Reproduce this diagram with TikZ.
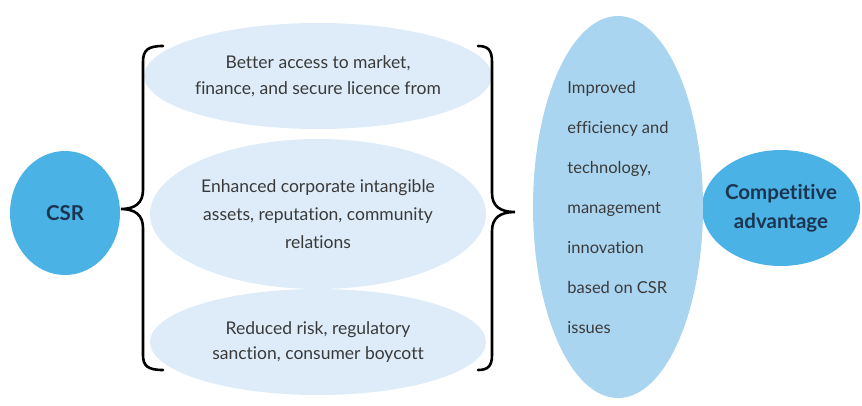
\documentclass[tikz,border=0pt]{standalone}
\usepackage{fontspec}
\setmainfont{Lato}[Ligatures={NoCommon,NoRare}]
\usetikzlibrary{shapes.geometric}
\definecolor{darkblob}{HTML}{4BB2E5}
\definecolor{paleblob}{HTML}{DDECF8}
\definecolor{midblob}{HTML}{AAD5F0}
\definecolor{bodytext}{HTML}{3A3A3A}
\definecolor{headtext}{HTML}{1B3550}
\begin{document}
\begin{tikzpicture}[x=1pt,y=-1pt,
  blob/.style={ellipse,inner sep=0pt,draw=none},
  keyblob/.style={blob,fill=darkblob,text=headtext,font=\bfseries\fontsize{20.5}{29}\selectfont,align=center},
  benefit/.style={blob,fill=paleblob,text=bodytext,font=\fontsize{17.5}{26}\selectfont,align=center,minimum width=336pt,minimum height=106pt},
  bracket/.style={line width=2.6pt,black,line cap=round}]
\useasboundingbox (0,0) rectangle (862,405);

% outer concepts
\node[keyblob,minimum width=110pt,minimum height=124pt] (csr) at (65,213) {CSR};
\node[keyblob,minimum width=156pt,minimum height=116pt] (comp) at (781,208) {Competitive\\advantage};

% the three benefit groups
\node[benefit] (access) at (318,76) {Better access to market,\\finance, and secure licence from};
\node[benefit,minimum height=150pt,font=\fontsize{17.5}{28}\selectfont] (assets) at (318,214) {Enhanced corporate intangible\\assets, reputation, community\\relations};
\node[benefit,font=\fontsize{17.5}{25}\selectfont] (risk) at (318,342) {Reduced risk, regulatory\\sanction, consumer boycott};

% resulting improvements
\node[blob,fill=midblob,minimum width=170pt,minimum height=382pt,text=bodytext,
      font=\fontsize{16.5}{40}\selectfont,align=left] (improve) at (618,207)
  {Improved\\efficiency and\\technology,\\management\\innovation\\based on CSR\\issues};

% left brace
\coordinate (ltip) at (121,209);
\draw[bracket] (163,46) .. controls (148,46) and (143,50) .. (143,62)
  -- (143,190) .. controls (143,203) and (135,209) .. (ltip)
  .. controls (135,209) and (143,215) .. (143,228)
  -- (143,355) .. controls (143,366) and (148,370) .. (163,370);

% right brace
\coordinate (rtip) at (515,212);
\draw[bracket] (478,46) .. controls (488,46) and (492,50) .. (492,62)
  -- (492,193) .. controls (492,206) and (500,212) .. (rtip)
  .. controls (500,212) and (492,218) .. (492,231)
  -- (492,355) .. controls (492,366) and (488,370) .. (478,370);
\end{tikzpicture}
\end{document}
